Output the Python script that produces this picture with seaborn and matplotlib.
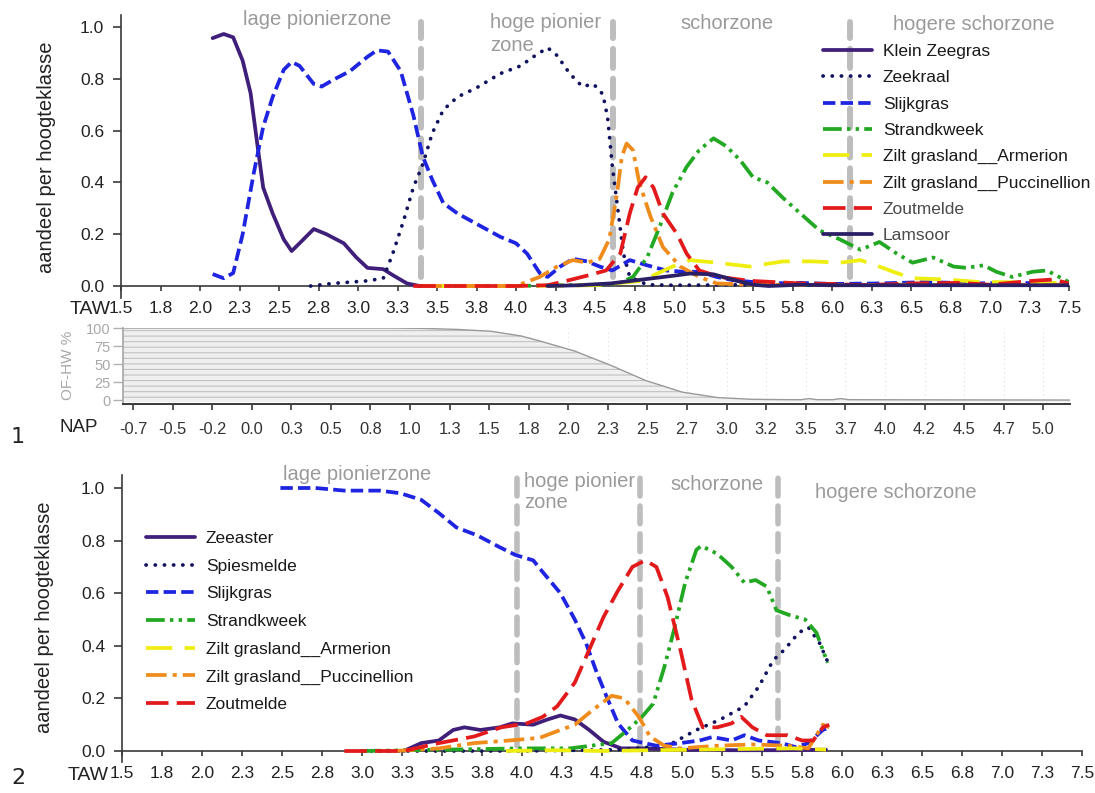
import matplotlib
matplotlib.use("Agg")
import matplotlib.pyplot as plt
import seaborn as sns
import numpy as np

# ---------------- data ----------------
taw_ticks = np.arange(1.5, 7.51, 0.25)
taw_labels = ["1.5", "1.8", "2.0", "2.3", "2.5", "2.8", "3.0", "3.3", "3.5", "3.8", "4.0", "4.3",
              "4.5", "4.8", "5.0", "5.3", "5.5", "5.8", "6.0", "6.3", "6.5", "6.8", "7.0", "7.3", "7.5"]
y_ticks = [0.0, 0.2, 0.4, 0.6, 0.8, 1.0]
y_labels = ["0.0", "0.2", "0.4", "0.6", "0.8", "1.0"]
nap_ticks = np.arange(-0.75, 5.01, 0.25)
nap_labels = ["-0.7", "-0.5", "-0.2", "0.0", "0.3", "0.5", "0.8", "1.0", "1.3", "1.5", "1.8", "2.0",
              "2.3", "2.5", "2.7", "3.0", "3.2", "3.5", "3.7", "4.0", "4.2", "4.5", "4.7", "5.0"]
ofhw_ticks = [0, 25, 50, 75, 100]
ofhw_labels = ["0", "25", "50", "75", "100"]

# panel 1 series (TAW, share)
kz_x = [2.08, 2.15, 2.21, 2.27, 2.32, 2.36, 2.40, 2.46, 2.53, 2.58, 2.63, 2.72, 2.80, 2.91, 2.99,
        3.06, 3.16, 3.22, 3.31, 3.39, 3.45, 3.5]
kz_y = [0.957, 0.973, 0.96, 0.87, 0.745, 0.56, 0.38, 0.28, 0.18, 0.135, 0.165, 0.22, 0.20, 0.165,
        0.11, 0.07, 0.065, 0.042, 0.01, 0.0, 0.0, 0.0]
zk_x = [2.70, 2.84, 3.06, 3.16, 3.22, 3.29, 3.35, 3.41, 3.47, 3.54, 3.63, 3.75, 3.90, 4.03, 4.11,
        4.20, 4.26, 4.34, 4.42, 4.49, 4.55, 4.58, 4.61, 4.65, 4.68, 4.72, 4.83, 5.0, 5.5, 6.0, 6.5,
        7.0, 7.5]
zk_y = [0.0, 0.01, 0.02, 0.03, 0.125, 0.255, 0.38, 0.47, 0.59, 0.68, 0.73, 0.765, 0.82, 0.85, 0.885,
        0.92, 0.89, 0.82, 0.77, 0.78, 0.74, 0.65, 0.46, 0.27, 0.125, 0.035, 0.005, 0.003, 0.005,
        0.003, 0.005, 0.003, 0.005]
sg1_x = [2.08, 2.15, 2.21, 2.27, 2.34, 2.40, 2.46, 2.53, 2.58, 2.63, 2.72, 2.77, 2.84, 2.95, 3.06,
         3.12, 3.19, 3.27, 3.35, 3.41, 3.47, 3.54, 3.63, 3.75, 3.90, 4.00, 4.07, 4.15, 4.20, 4.28,
         4.36, 4.45, 4.53, 4.61, 4.72, 4.83, 4.95, 5.06, 5.16, 5.27, 5.37, 5.59, 5.8, 6.0, 6.3,
         6.6, 6.9, 7.2, 7.5]
sg1_y = [0.046, 0.03, 0.05, 0.20, 0.435, 0.615, 0.73, 0.835, 0.865, 0.85, 0.78, 0.77, 0.795, 0.83,
         0.885, 0.91, 0.905, 0.83, 0.66, 0.50, 0.41, 0.32, 0.28, 0.24, 0.19, 0.165, 0.125, 0.05,
         0.035, 0.075, 0.105, 0.095, 0.075, 0.06, 0.10, 0.08, 0.06, 0.055, 0.055, 0.035, 0.023,
         0.01, 0.012, 0.008, 0.01, 0.015, 0.01, 0.012, 0.008]
sk1_x = [3.4, 4.0, 4.5, 4.65, 4.74, 4.83, 4.91, 4.99, 5.08, 5.16, 5.25, 5.33, 5.42, 5.50, 5.59,
         5.69, 5.80, 5.92, 6.05, 6.18, 6.30, 6.41, 6.51, 6.64, 6.77, 6.85, 6.96, 7.04, 7.14, 7.27,
         7.36, 7.50]
sk1_y = [0.0, 0.0, 0.005, 0.01, 0.035, 0.11, 0.23, 0.36, 0.46, 0.525, 0.57, 0.54, 0.485, 0.42,
         0.40, 0.34, 0.28, 0.215, 0.18, 0.14, 0.17, 0.125, 0.09, 0.11, 0.075, 0.07, 0.08, 0.055,
         0.035, 0.055, 0.06, 0.015]
ar1_x = [3.4, 4.0, 4.5, 4.8, 4.9, 4.99, 5.10, 5.27, 5.48, 5.69, 5.88, 6.05, 6.18, 6.30, 6.41,
         6.51, 6.73, 6.94, 7.14, 7.36, 7.50]
ar1_y = [0.0, 0.0, 0.003, 0.02, 0.05, 0.075, 0.10, 0.09, 0.075, 0.095, 0.095, 0.09, 0.10, 0.075,
         0.05, 0.03, 0.025, 0.015, 0.015, 0.01, 0.015]
pu1_x = [3.4, 4.0, 4.15, 4.26, 4.36, 4.45, 4.53, 4.59, 4.64, 4.67, 4.70, 4.74, 4.78, 4.85, 4.93,
         5.04, 5.16, 5.27, 5.5, 6.0, 6.5, 7.0, 7.5]
pu1_y = [0.0, 0.0, 0.035, 0.075, 0.10, 0.09, 0.105, 0.18, 0.36, 0.50, 0.55, 0.525, 0.40, 0.27,
         0.15, 0.075, 0.035, 0.01, 0.005, 0.003, 0.005, 0.003, 0.005]
zm1_x = [3.35, 3.7, 4.0, 4.2, 4.32, 4.45, 4.57, 4.66, 4.72, 4.77, 4.82, 4.87, 4.93, 5.02, 5.08,
         5.16, 5.29, 5.48, 5.8, 6.0, 6.2, 6.5, 6.8, 7.0, 7.27, 7.4, 7.5]
zm1_y = [0.0, 0.0, 0.0, 0.003, 0.02, 0.04, 0.06, 0.125, 0.28, 0.38, 0.42, 0.38, 0.28, 0.20, 0.125,
         0.06, 0.035, 0.02, 0.01, 0.008, 0.003, 0.01, 0.012, 0.005, 0.02, 0.025, 0.01]
ls1_x = [4.2, 4.4, 4.6, 4.8, 5.0, 5.1, 5.25, 5.4, 5.5, 5.6, 5.8, 6.0, 6.5, 7.0, 7.5]
ls1_y = [0.0, 0.003, 0.01, 0.025, 0.04, 0.048, 0.045, 0.02, 0.005, 0.0, 0.005, 0.003, 0.003,
         0.003, 0.003]

# panel 2 series
za_x = [3.26, 3.37, 3.48, 3.57, 3.64, 3.74, 3.86, 3.94, 4.07, 4.16, 4.24, 4.33, 4.42, 4.51, 4.62,
        4.77, 5.0, 5.3, 5.6, 5.9]
za_y = [0.0, 0.03, 0.04, 0.08, 0.09, 0.08, 0.09, 0.105, 0.10, 0.12, 0.135, 0.12, 0.08, 0.035,
        0.01, 0.01, 0.005, 0.003, 0.003, 0.005]
sp_x = [3.0, 4.0, 4.6, 4.91, 5.09, 5.24, 5.39, 5.48, 5.57, 5.64, 5.73, 5.79, 5.86, 5.91]
sp_y = [0.0, 0.0, 0.005, 0.02, 0.08, 0.12, 0.17, 0.245, 0.345, 0.385, 0.45, 0.47, 0.41, 0.34]
sg2_x = [2.49, 2.71, 2.89, 3.11, 3.24, 3.37, 3.48, 3.59, 3.72, 3.86, 3.96, 4.07, 4.13, 4.24, 4.33,
         4.40, 4.46, 4.53, 4.60, 4.69, 4.84, 4.99, 5.11, 5.19, 5.31, 5.39, 5.48, 5.62, 5.71, 5.79,
         5.88, 5.92]
sg2_y = [1.0, 1.0, 0.99, 0.99, 0.98, 0.955, 0.905, 0.85, 0.82, 0.775, 0.745, 0.725, 0.68, 0.60,
         0.50, 0.41, 0.31, 0.205, 0.105, 0.04, 0.02, 0.03, 0.04, 0.053, 0.04, 0.06, 0.04, 0.03,
         0.015, 0.03, 0.08, 0.09]
sk2_x = [3.0, 3.5, 4.0, 4.3, 4.56, 4.66, 4.75, 4.82, 4.89, 4.95, 5.02, 5.09, 5.12, 5.22, 5.31,
         5.39, 5.46, 5.53, 5.59, 5.68, 5.77, 5.84, 5.91]
sk2_y = [0.0, 0.005, 0.01, 0.01, 0.03, 0.08, 0.13, 0.18, 0.32, 0.46, 0.64, 0.765, 0.78, 0.75, 0.70,
         0.64, 0.65, 0.625, 0.535, 0.515, 0.50, 0.45, 0.335]
ar2_x = [3.9, 4.2, 4.5, 4.8, 5.1, 5.4, 5.7, 5.9]
ar2_y = [0.0, 0.003, 0.0, 0.003, 0.005, 0.008, 0.01, 0.005]
pu2_x = [3.2, 3.48, 3.70, 3.92, 4.11, 4.24, 4.33, 4.44, 4.56, 4.64, 4.73, 4.80, 4.89, 4.99, 5.22,
         5.44, 5.66, 5.79, 5.88, 5.92]
pu2_y = [0.0, 0.01, 0.03, 0.04, 0.05, 0.08, 0.10, 0.155, 0.21, 0.20, 0.13, 0.055, 0.02, 0.01,
         0.02, 0.025, 0.02, 0.01, 0.10, 0.09]
zm2_x = [2.89, 3.26, 3.48, 3.70, 3.87, 4.03, 4.13, 4.22, 4.33, 4.42, 4.51, 4.60, 4.69, 4.77, 4.84,
         4.91, 4.99, 5.06, 5.13, 5.22, 5.31, 5.37, 5.44, 5.53, 5.66, 5.75, 5.82, 5.88, 5.92]
zm2_y = [0.0, 0.0, 0.03, 0.055, 0.09, 0.105, 0.13, 0.17, 0.26, 0.385, 0.51, 0.61, 0.70, 0.725,
         0.70, 0.585, 0.385, 0.195, 0.09, 0.09, 0.105, 0.13, 0.09, 0.06, 0.06, 0.04, 0.04, 0.09,
         0.10]

# OF-HW % against NAP
ofhw_nap = [-0.813, 0.9, 1.07, 1.3, 1.51, 1.7, 1.82, 2.04, 2.27, 2.49, 2.72, 2.94, 3.16, 3.4,
            3.47, 3.52, 3.57, 3.67, 3.72, 3.77, 4.2, 5.169]
ofhw_pct = [100, 100, 99.5, 98, 95.5, 89, 82, 68, 48, 27, 11, 3.5, 1, 0.5, 0.5, 2, 0.5, 0.5, 2,
            0.5, 0.3, 0.0]

zones1 = [3.40, 4.614, 6.114]
zones2 = [3.97, 4.74, 5.60]
zone_names = ["lage pionierzone", "hoge pionier", "zone", "schorzone", "hogere schorzone"]

# ---------------- style ----------------
sns.set_theme(style="ticks")
plt.rcParams['font.family'] = ['Liberation Sans', 'DejaVu Sans']
plt.rcParams['hatch.linewidth'] = 0.8

W, H = 1095, 793
fig = plt.figure(figsize=(W / 100, H / 100), dpi=100)


def px_axes(l, t, r, b):
    return fig.add_axes([l / W, 1 - b / H, (r - l) / W, (b - t) / H])


ax1 = px_axes(121, 15, 1069, 298)
axm = px_axes(123, 328, 1070, 404)
ax2 = px_axes(122, 475, 1082, 762)

C_PURPLE = "#3f1f7a"
C_LAMS = "#2b1f66"
C_NAVY = "#12125e"
C_BLUE = "#1f24e0"
C_GREEN = "#22a822"
C_YELLOW = "#eeee10"
C_ORANGE = "#f08c1c"
C_RED = "#e21a1c"

SOLID = "-"
DOT = (0, (0.05, 2.4))
DASH = (0, (3.3, 1.4))
DDOT = (0, (5.0, 1.4, 0.9, 1.4, 0.9, 1.4))
LDASH = (0, (7.0, 3.3))
DDASH = (0, (5.5, 1.6, 1.1, 1.6))
RDASH = (0, (6.0, 2.2))

LW = 2.7


def draw(ax, x, y, color, ls, name, z=3):
    sns.lineplot(x=x, y=y, ax=ax, color=color, linewidth=LW, estimator=None, sort=False,
                 legend=False, zorder=z)
    line = ax.lines[-1]
    line.set_linestyle(ls)
    line.set_dash_capstyle("round" if ls is DOT else "butt")
    line.set_solid_capstyle("round")
    line.set_solid_joinstyle("round")
    line.set_dash_joinstyle("round")
    line.set_label(name)
    return line


p1 = [
    ("Klein Zeegras", kz_x, kz_y, C_PURPLE, SOLID, 3),
    ("Zeekraal", zk_x, zk_y, C_NAVY, DOT, 3),
    ("Slijkgras", sg1_x, sg1_y, C_BLUE, DASH, 3),
    ("Strandkweek", sk1_x, sk1_y, C_GREEN, DDOT, 3),
    ("Zilt grasland__Armerion", ar1_x, ar1_y, C_YELLOW, LDASH, 3),
    ("Zilt grasland__Puccinellion", pu1_x, pu1_y, C_ORANGE, DDASH, 3),
    ("Zoutmelde", zm1_x, zm1_y, C_RED, RDASH, 3),
    ("Lamsoor", ls1_x, ls1_y, C_LAMS, SOLID, 3),
]
p2 = [
    ("Zeeaster", za_x, za_y, C_PURPLE, SOLID, 3),
    ("Spiesmelde", sp_x, sp_y, C_NAVY, DOT, 3),
    ("Slijkgras", sg2_x, sg2_y, C_BLUE, DASH, 3),
    ("Strandkweek", sk2_x, sk2_y, C_GREEN, DDOT, 3),
    ("Zilt grasland__Armerion", ar2_x, ar2_y, C_YELLOW, LDASH, 4),
    ("Zilt grasland__Puccinellion", pu2_x, pu2_y, C_ORANGE, DDASH, 3),
    ("Zoutmelde", zm2_x, zm2_y, C_RED, RDASH, 3),
]

ZONE_C = "#bdbdbd"
TXT_ZONE = "#9a9a9a"
AX_C = "#3a3a3a"


def style_main(ax, ylim):
    ax.set_xlim(1.5, 7.5)
    ax.set_ylim(*ylim)
    ax.set_facecolor("none")
    for s in ["top", "right"]:
        ax.spines[s].set_visible(False)
    for s in ["left", "bottom"]:
        ax.spines[s].set_color(AX_C)
        ax.spines[s].set_linewidth(1.2)
    ax.spines["bottom"].set_position(("data", 0))
    ax.set_xticks(taw_ticks)
    ax.set_xticklabels(taw_labels)
    ax.set_yticks(y_ticks)
    ax.set_yticklabels(y_labels)
    ax.tick_params(axis="both", direction="out", color=AX_C, labelcolor="#222222", labelsize=12.5)
    ax.tick_params(axis="y", length=6, width=1.2, pad=6)
    ax.tick_params(axis="x", length=3.5, width=1.2, pad=7)
    ax.set_xlabel("")
    ax.set_ylabel("")


lines1 = []
for name, x, y, c, ls, z in p1:
    lines1.append(draw(ax1, x, y, c, ls, name, z))
for b in zones1:
    ax1.plot([b, b], [0.035, 1.02], color=ZONE_C, lw=4.3, linestyle=(0, (3.2, 1.8)),
             dash_capstyle="round", zorder=2, clip_on=False)
style_main(ax1, (-0.0463, 1.0463))

lines2 = []
for name, x, y, c, ls, z in p2:
    lines2.append(draw(ax2, x, y, c, ls, name, z))
for b in zones2:
    ax2.plot([b, b], [0.02, 1.06], color=ZONE_C, lw=4.0, linestyle=(0, (3.2, 1.8)),
             dash_capstyle="round", zorder=2, clip_on=False)
style_main(ax2, (-0.0418, 1.0494))

# zone labels
zkw = dict(color=TXT_ZONE, fontsize=14.5, ha="left", va="center", clip_on=False)
ax1.text(2.272, 1.027, zone_names[0], **zkw)
ax1.text(3.835, 1.019, zone_names[1], **zkw)
ax1.text(3.835, 0.930, zone_names[2], **zkw)
ax1.text(5.038, 1.012, zone_names[3], **zkw)
ax1.text(6.386, 1.008, zone_names[4], **zkw)
ax2.text(2.506, 1.053, zone_names[0], **zkw)
ax2.text(4.0125, 1.023, zone_names[1], **zkw)
ax2.text(4.0125, 0.943, zone_names[2], **zkw)
ax2.text(4.925, 1.015, zone_names[3], **zkw)
ax2.text(5.83, 0.981, zone_names[4], **zkw)

# legends
LEGKW = dict(loc="upper left", bbox_transform=fig.transFigure, frameon=False, fontsize=12.5,
             handlelength=2.85, handletextpad=0.6, borderpad=0, borderaxespad=0)
leg1 = ax1.legend(handles=lines1, bbox_to_anchor=(823 / W, 1 - 44 / H), labelspacing=0.64,
                  **LEGKW)
for t in leg1.get_texts():
    t.set_color("#4a4a4a" if t.get_text() in ("Zoutmelde", "Lamsoor") else "#1a1a1a")
leg2 = ax2.legend(handles=lines2, bbox_to_anchor=(146 / W, 1 - 531 / H), labelspacing=0.72,
                  **LEGKW)
for t in leg2.get_texts():
    t.set_color("#1a1a1a")

# middle panel
axm.set_xlim(-0.813, 5.169)
axm.set_ylim(-5.5, 100)
axm.set_facecolor("none")
axm.fill_between(ofhw_nap, -2.5, ofhw_pct, facecolor="#efefef", edgecolor="#c2c2c2",
                 hatch="---", linewidth=0, zorder=1)
sns.lineplot(x=ofhw_nap, y=ofhw_pct, ax=axm, color="#9a9a9a", linewidth=1.0, estimator=None,
             sort=False, legend=False, zorder=2)
for s in ["top", "right"]:
    axm.spines[s].set_visible(False)
axm.spines["left"].set_color("#a8a8a8")
axm.spines["bottom"].set_color(AX_C)
axm.spines["bottom"].set_linewidth(1.4)
axm.set_xticks(nap_ticks)
axm.set_xticklabels(nap_labels)
axm.set_yticks(ofhw_ticks)
axm.set_yticklabels(ofhw_labels)
axm.grid(axis="x", color="#dcdcdc", linestyle=(0, (1, 3)), linewidth=0.8)
axm.tick_params(axis="x", direction="out", length=4, width=1.2, color=AX_C, labelcolor="#333333",
                labelsize=11.8, pad=9)
axm.tick_params(axis="y", direction="out", length=7, width=1.0, color="#b0b0b0",
                labelcolor="#a8a8a8", labelsize=10.5, pad=2)
axm.set_xlabel("")
axm.set_ylabel("")

# figure texts
fig.text(47 / W, 1 - 157 / H, "aandeel per hoogteklasse", rotation=90, ha="center", va="center",
         fontsize=14.5, color="#222222")
fig.text(45 / W, 1 - 617 / H, "aandeel per hoogteklasse", rotation=90, ha="center", va="center",
         fontsize=14.5, color="#222222")
fig.text(68 / W, 1 - 365 / H, "OF-HW %", rotation=90, ha="center", va="center",
         fontsize=11, color="#a8a8a8")
fig.text(111 / W, 1 - 310 / H, "TAW", ha="right", va="center", fontsize=14, color="#222222")
fig.text(109 / W, 1 - 775 / H, "TAW", ha="right", va="center", fontsize=14, color="#222222")
fig.text(98 / W, 1 - 428 / H, "NAP", ha="right", va="center", fontsize=13.5, color="#222222")
fig.text(18 / W, 1 - 437 / H, "1", ha="center", va="center", fontsize=16, color="#222222",
         family=["DejaVu Sans"])
fig.text(18 / W, 1 - 778 / H, "2", ha="center", va="center", fontsize=16, color="#222222",
         family=["DejaVu Sans"])

fig.savefig("out.png", dpi=100, facecolor="white")
